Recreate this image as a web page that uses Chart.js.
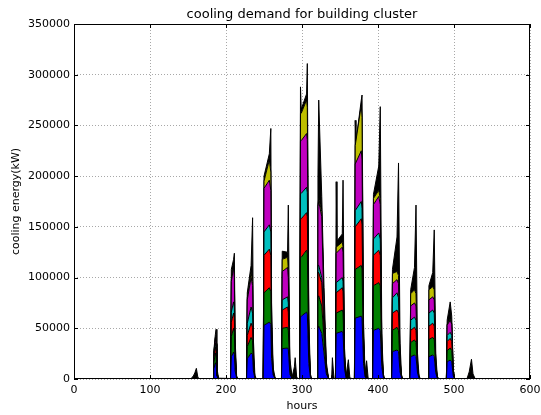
<!DOCTYPE html>
<html>
<head>
<meta charset="utf-8">
<script src="https://cdn.jsdelivr.net/npm/chart.js@4.4.1/dist/chart.umd.min.js"></script>
<style>
  body { margin: 0; background: #fff; }
</style>
</head>
<body>
<canvas id="chart" width="541" height="415"></canvas>
<script>
// hours (x) shared by every layer of the stack
const hours = [
  0, 154, 157, 159, 161, 163, 166,
  183, 184, 186, 187, 188, 190,
  206, 207, 210, 211, 212, 214, 216,
  227, 228, 233, 235, 236, 238, 240,
  249, 250, 257, 259, 260, 262, 265,
  273, 274, 281, 282, 284, 287, 290, 291, 293, 295,
  297, 298, 299, 306, 307, 309, 311, 313,
  320, 321, 322, 326, 329, 332, 335,
  339, 340, 342, 344, 345, 346, 353, 354, 356, 358, 361, 363, 369,
  370, 371, 378, 379, 381, 383, 385, 387, 389,
  393, 394, 401, 403, 405, 407, 409,
  418, 419, 425, 427, 429, 431, 433,
  442, 443, 448, 450, 452, 454, 456,
  466, 467, 472, 474, 476, 478, 480,
  490, 491, 495, 497, 499, 501,
  517, 520, 523, 525, 528, 576
]

// cooling energy per building (kW), one value per hour above
const blue = [
  0, 0, 0, 0, 0, 0, 0,
  0, 10000, 16000, 14000, 3000, 0,
  0, 22000, 26600, 24000, 8000, 1000, 0,
  0, 20000, 25600, 24000, 8000, 1000, 0,
  0, 53000, 56000, 54000, 20000, 4000, 0,
  0, 30000, 30500, 29000, 5000, 0, 1000, 2000, 0, 0,
  0, 62000, 62000, 66000, 64000, 15000, 2000, 0,
  0, 50000, 52000, 45000, 25000, 5000, 0,
  0, 2000, 0, 0, 45000, 45000, 47000, 45000, 10000, 1000, 1000, 0, 0,
  60000, 60000, 62000, 60000, 15000, 2000, 1000, 0, 0,
  0, 48000, 50000, 48000, 12000, 2000, 0,
  0, 27000, 28600, 27000, 7000, 1000, 0,
  0, 22000, 23700, 22000, 6000, 1000, 0,
  0, 22000, 23700, 22000, 6000, 1000, 0,
  0, 17000, 18700, 17000, 3000, 0,
  0, 1000, 1500, 0, 0, 0
]
const green = [
  0, 0, 0, 0, 0, 0, 0,
  0, 6000, 9600, 8000, 2000, 0,
  0, 20000, 23400, 22000, 6000, 0, 0,
  0, 12000, 15400, 14000, 4000, 0, 0,
  0, 32000, 34000, 32000, 10000, 1000, 0,
  0, 20000, 20500, 19000, 3000, 0, 1000, 1000, 0, 0,
  0, 58000, 58000, 61000, 60000, 10000, 0, 0,
  0, 30000, 30000, 27000, 15000, 3000, 0,
  0, 1000, 0, 0, 20000, 20000, 21000, 20000, 4000, 0, 1000, 0, 0,
  48000, 48000, 50000, 48000, 10000, 0, 0, 0, 0,
  0, 44000, 45000, 44000, 8000, 0, 0,
  0, 21000, 22400, 21000, 5000, 0, 0,
  0, 14000, 14800, 14000, 3000, 0, 0,
  0, 17000, 17300, 17000, 4000, 0, 0,
  0, 11000, 11800, 11000, 2000, 0,
  0, 0, 0, 0, 0, 0
]
const red = [
  0, 0, 0, 0, 0, 0, 0,
  0, 4000, 5900, 5000, 1000, 0,
  0, 14000, 15000, 14000, 4000, 0, 0,
  0, 11000, 14000, 13000, 3000, 0, 0,
  0, 37000, 38000, 36000, 8000, 0, 0,
  0, 18000, 20000, 18000, 2000, 0, 0, 1000, 0, 0,
  0, 38000, 38000, 37000, 36000, 7000, 0, 0,
  0, 25000, 23000, 23000, 10000, 2000, 0,
  0, 1000, 0, 0, 20000, 20000, 22000, 21000, 3000, 0, 0, 0, 0,
  42000, 42000, 46000, 44000, 7000, 0, 0, 0, 0,
  0, 30000, 32000, 30000, 5000, 0, 0,
  0, 17000, 17000, 17000, 3000, 0, 0,
  0, 12000, 12500, 12000, 2000, 0, 0,
  0, 13000, 14000, 13000, 2000, 0, 0,
  0, 9000, 9500, 9000, 1000, 0,
  0, 0, 0, 0, 0, 0
]
const cyan = [
  0, 0, 0, 0, 0, 0, 0,
  0, 2000, 4000, 3000, 1000, 0,
  0, 10000, 11000, 10000, 3000, 0, 0,
  0, 12000, 16000, 14000, 3000, 0, 0,
  0, 23000, 24000, 23000, 6000, 0, 0,
  0, 10000, 10000, 9000, 1000, 0, 0, 0, 0, 0,
  0, 25000, 25000, 25000, 24000, 4000, 0, 0,
  0, 7000, 7000, 5000, 2000, 0, 0,
  0, 0, 0, 0, 10000, 10000, 10000, 10000, 1000, 0, 0, 0, 0,
  16000, 16000, 17000, 16000, 2000, 0, 0, 0, 0,
  0, 16000, 17000, 16000, 2000, 0, 0,
  0, 15000, 17000, 15000, 2000, 0, 0,
  0, 10000, 10000, 10000, 1000, 0, 0,
  0, 13000, 13000, 13000, 2000, 0, 0,
  0, 6000, 6000, 6000, 1000, 0,
  0, 0, 0, 0, 0, 0
]
const magenta = [
  0, 0, 0, 0, 0, 0, 0,
  0, 3000, 4500, 4000, 1000, 0,
  0, 30000, 34000, 30000, 7000, 0, 0,
  0, 23000, 29000, 27000, 4000, 0, 0,
  0, 43000, 44000, 41000, 8000, 0, 0,
  0, 28000, 29000, 25000, 2000, 0, 0, 0, 0, 0,
  0, 52000, 52000, 53000, 52000, 6000, 0, 0,
  0, 58000, 63000, 60000, 18000, 2000, 0,
  0, 0, 0, 0, 29000, 29000, 30000, 29000, 4000, 0, 0, 0, 0,
  46000, 46000, 50000, 48000, 6000, 0, 0, 0, 0,
  0, 34000, 36000, 34000, 5000, 0, 0,
  0, 14000, 13000, 14000, 2000, 0, 0,
  0, 14000, 14000, 14000, 2000, 0, 0,
  0, 13000, 13000, 13000, 2000, 0, 0,
  0, 10000, 12000, 11000, 1000, 0,
  0, 0, 0, 0, 0, 0
]
const yellow = [
  0, 0, 0, 0, 0, 0, 0,
  0, 500, 1000, 1000, 0, 0,
  0, 2000, 2000, 2000, 1000, 0, 0,
  0, 2000, 5000, 4000, 1000, 0, 0,
  0, 7000, 20000, 18000, 3000, 0, 0,
  0, 12000, 10000, 8000, 0, 0, 0, 0, 0, 0,
  0, 27000, 27000, 33000, 32000, 2000, 0, 0,
  0, 2000, 3000, 5000, 2000, 0, 0,
  0, 0, 0, 0, 6000, 6000, 5000, 5000, 0, 0, 0, 0, 0,
  18000, 18000, 45000, 42000, 2000, 0, 0, 0, 0,
  0, 6000, 6000, 6000, 1000, 0, 0,
  0, 10000, 8000, 8000, 1000, 0, 0,
  0, 12000, 13000, 12000, 1000, 0, 0,
  0, 10000, 10000, 10000, 1000, 0, 0,
  0, 1000, 1000, 1000, 0, 0,
  0, 0, 0, 0, 0, 0
]
const black = [
  0, 300, 3000, 6000, 10500, 1500, 0,
  500, 2500, 3000, 14000, 4000, 800,
  500, 10000, 6000, 22000, 11000, 2000, 0,
  0, 5000, 7000, 63000, 17000, 2500, 0,
  0, 5000, 6000, 43000, 20000, 6000, 0,
  0, 8000, 5000, 63500, 7000, 2000, 10000, 17000, 2000, 0,
  0, 26000, 4000, 6000, 43000, 16000, 3000, 0,
  0, 28000, 97000, 15000, 18000, 5000, 0,
  0, 17000, 1000, 0, 64500, 6000, 8000, 66000, 8000, 2000, 17000, 1000, 0,
  25000, 4000, 5000, 22000, 13000, 3000, 17000, 1000, 0,
  0, 4000, 24000, 90500, 12000, 3000, 0,
  0, 4000, 34000, 111000, 15000, 3000, 0,
  0, 4000, 22000, 87500, 10000, 2000, 0,
  0, 4000, 14000, 59000, 8000, 2000, 0,
  0, 4000, 17000, 7000, 2000, 0,
  0, 6000, 18000, 5000, 0, 0
]

const xTicks = [0, 100, 200, 300, 400, 500, 600]
const yTicks = [0, 50000, 100000, 150000, 200000, 250000, 300000, 350000]
const title = 'cooling demand for building cluster'

const layers = [
  {values: blue, color: '#0000ff'},
  {values: green, color: '#008000'},
  {values: red, color: '#ff0000'},
  {values: cyan, color: '#00bfbf'},
  {values: magenta, color: '#bf00bf'},
  {values: yellow, color: '#bfbf00'},
  {values: black, color: '#000000'}
]

Chart.defaults.font.family = '"DejaVu Sans", sans-serif'
Chart.defaults.color = '#000'

// matplotlib style box with inward ticks on all four sides, title centred over the axes
const framePlugin = {
  id: 'frame',
  afterDraw(chart) {
    const {ctx, chartArea: a, scales: {x, y}} = chart
    ctx.save()
    ctx.strokeStyle = '#000'
    ctx.lineWidth = 1
    ctx.strokeRect(a.left + 0.5, a.top + 0.5, a.right - a.left - 1, a.bottom - a.top - 1)
    ctx.beginPath()
    xTicks.forEach((v) => {
      const px = Math.round(x.getPixelForValue(v)) + 0.5
      ctx.moveTo(px, a.bottom)
      ctx.lineTo(px, a.bottom - 4)
      ctx.moveTo(px, a.top)
      ctx.lineTo(px, a.top + 4)
    })
    yTicks.forEach((v) => {
      const py = Math.round(y.getPixelForValue(v)) + 0.5
      ctx.moveTo(a.left, py)
      ctx.lineTo(a.left + 4, py)
      ctx.moveTo(a.right, py)
      ctx.lineTo(a.right - 4, py)
    })
    ctx.stroke()

    ctx.fillStyle = '#000'
    ctx.font = '13px "DejaVu Sans", sans-serif'
    ctx.textAlign = 'center'
    ctx.textBaseline = 'alphabetic'
    ctx.fillText(title, (a.left + a.right) / 2, a.top - 6)
    ctx.restore()
  }
}

new Chart(document.getElementById('chart'), {
  type: 'line',
  data: {
    datasets: layers.map((layer, i) => ({
      data: hours.map((h, j) => ({x: h, y: layer.values[j]})),
      backgroundColor: layer.color,
      borderColor: '#000',
      borderWidth: 1,
      pointRadius: 0,
      tension: 0,
      fill: i === 0 ? 'origin' : '-1'
    }))
  },
  options: {
    responsive: false,
    animation: false,
    layout: {
      padding: {top: 24, right: 11, bottom: 0, left: 0}
    },
    plugins: {
      legend: {display: false},
      tooltip: {enabled: false},
      title: {display: false}
    },
    scales: {
      x: {
        type: 'linear',
        min: 0,
        max: 600,
        afterFit: (scale) => {
          scale.height = 36
          scale.paddingLeft = 0
          scale.paddingRight = 0
        },
        ticks: {stepSize: 100, font: {size: 11}, padding: 5, maxRotation: 0},
        grid: {color: '#a8a8a8', lineWidth: 1, drawTicks: false},
        border: {display: false, dash: [1, 2]},
        title: {display: true, text: 'hours', font: {size: 11}, padding: {top: 1, bottom: 2}}
      },
      y: {
        stacked: true,
        min: 0,
        max: 350000,
        afterFit: (scale) => { scale.width = 74 },
        ticks: {stepSize: 50000, font: {size: 11}, padding: 4, callback: (v) => String(v)},
        grid: {color: '#a8a8a8', lineWidth: 1, drawTicks: false},
        border: {display: false, dash: [1, 2]},
        title: {display: true, text: 'cooling energy(kW)', font: {size: 11}, padding: {top: 10, bottom: 0}}
      }
    }
  },
  plugins: [framePlugin]
})
</script>
</body>
</html>
